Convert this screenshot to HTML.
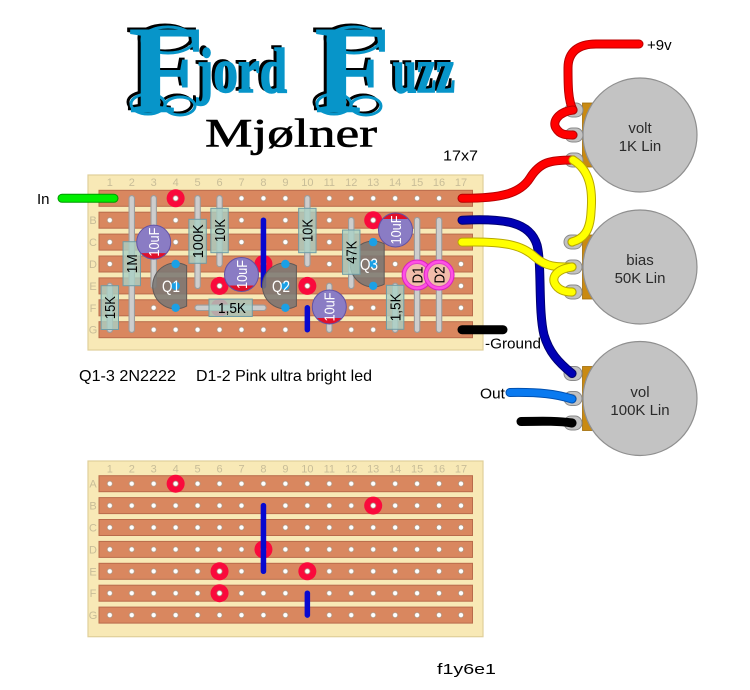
<!DOCTYPE html>
<html><head><meta charset="utf-8">
<style>
html,body{margin:0;padding:0;background:#fff;}
svg{display:block;}
</style></head><body>
<svg width="750" height="690" viewBox="0 0 750 690" xmlns="http://www.w3.org/2000/svg" font-family="Liberation Sans, sans-serif">
<defs>
<pattern id="h1" x="98.825" y="187.35" width="21.95" height="21.9" patternUnits="userSpaceOnUse"><circle cx="10.975" cy="10.95" r="2.6" fill="#fff" stroke="#a8927e" stroke-width="0.7"/></pattern>
<pattern id="h2" x="98.825" y="472.75" width="21.95" height="21.9" patternUnits="userSpaceOnUse"><circle cx="10.975" cy="10.95" r="2.6" fill="#fff" stroke="#a8927e" stroke-width="0.7"/></pattern>
<path id="wRa" d="M462,198.3 C500,198.5 520,194 530,178 C540,162 550,160 573,160"/>
<path id="w9v" d="M573,110 C568,100 568,85 568,68 C568,52 578,44 596,44 L639,44"/>
<path id="wRl" d="M573,110 C558,112 552,122 556,128 C560,135 566,135 573,135"/>
<path id="wY1" d="M573,160 C590,170 593,190 591,212 C590,232 583,239 572,242"/>
<path id="wY2" d="M462,242.1 C505,241 522,245 535,257 C546,267 556,267 572,267"/>
<path id="wYl" d="M572,267 C557,269 551,277 555,284 C559,291 566,292 572,292"/>
<path id="wB" d="M462,220.2 C505,218 530,222 537,245 C542,265 538,310 544,335 C549,352 558,362 572,373.5"/>
<path id="wO" d="M510,392.5 C540,392 556,394 572,399"/>
<path id="wK" d="M521,421.5 C545,421 560,421 572,423"/>
<path id="wG" d="M462,329.7 L503,329.7"/>
<path id="wIn" d="M62,198.3 L114,198.3"/>
</defs>
<rect width="750" height="690" fill="#fff"/>

<!-- Title -->
<g font-family="Liberation Serif, serif" font-weight="bold">
 <g fill="none" stroke="#000" stroke-width="3" transform="translate(-3,-2)">
  <ellipse cx="168" cy="40" rx="26" ry="13"/>
  <ellipse cx="148" cy="104" rx="17" ry="10"/>
  <ellipse cx="180" cy="106" rx="15" ry="9"/>
  <ellipse cx="354" cy="40" rx="26" ry="13"/>
  <ellipse cx="334" cy="104" rx="17" ry="10"/>
  <ellipse cx="366" cy="106" rx="15" ry="9"/>
 </g>
 <g fill="#000" transform="translate(-3,-2)">
  <text x="128" y="112" font-size="126">F</text>
  <text x="197" y="92" font-size="63" textLength="90" lengthAdjust="spacingAndGlyphs" stroke="#000" stroke-width="1.5">jord</text>
  <text x="314" y="112" font-size="126">F</text>
  <text x="393" y="92" font-size="63" textLength="62" lengthAdjust="spacingAndGlyphs" stroke="#000" stroke-width="1.5">uzz</text>
 </g>
 <g fill="none" stroke="#0795c9" stroke-width="3">
  <ellipse cx="168" cy="40" rx="26" ry="13"/>
  <ellipse cx="148" cy="104" rx="17" ry="10"/>
  <ellipse cx="180" cy="106" rx="15" ry="9"/>
  <ellipse cx="354" cy="40" rx="26" ry="13"/>
  <ellipse cx="334" cy="104" rx="17" ry="10"/>
  <ellipse cx="366" cy="106" rx="15" ry="9"/>
 </g>
 <g fill="#0795c9">
  <text x="128" y="112" font-size="126">F</text>
  <text x="197" y="92" font-size="63" textLength="90" lengthAdjust="spacingAndGlyphs" stroke="#0795c9" stroke-width="1.5">jord</text>
  <text x="314" y="112" font-size="126">F</text>
  <text x="393" y="92" font-size="63" textLength="62" lengthAdjust="spacingAndGlyphs" stroke="#0795c9" stroke-width="1.5">uzz</text>
 </g>
</g>
<text x="205" y="146.7" font-family="Liberation Serif, serif" font-size="40" textLength="172" lengthAdjust="spacingAndGlyphs" fill="#000" stroke="#000" stroke-width="0.6">Mjølner</text>

<!-- TOP BOARD -->
<rect x="88" y="175" width="395" height="175" fill="#f8e9b6" stroke="#e0cf9a" stroke-width="1.2"/>
<g font-size="11" fill="#c8bd98" text-anchor="middle">
 <text x="109.8" y="186">1</text><text x="131.75" y="186">2</text><text x="153.7" y="186">3</text><text x="175.65" y="186">4</text><text x="197.6" y="186">5</text><text x="219.55" y="186">6</text><text x="241.5" y="186">7</text><text x="263.45" y="186">8</text><text x="285.4" y="186">9</text><text x="307.35" y="186">10</text><text x="329.3" y="186">11</text><text x="351.25" y="186">12</text><text x="373.2" y="186">13</text><text x="395.15" y="186">14</text><text x="417.1" y="186">15</text><text x="439.05" y="186">16</text><text x="461" y="186">17</text>
 <text x="93" y="202.3">A</text><text x="93" y="224.2">B</text><text x="93" y="246.1">C</text><text x="93" y="268">D</text><text x="93" y="289.9">E</text><text x="93" y="311.8">F</text><text x="93" y="333.7">G</text>
</g>
<g fill="#d9875f" stroke="#b96b4b" stroke-width="1">
 <rect x="99" y="190.3" width="373.5" height="16"/>
 <rect x="99" y="212.2" width="373.5" height="16"/>
 <rect x="99" y="234.1" width="373.5" height="16"/>
 <rect x="99" y="256" width="373.5" height="16"/>
 <rect x="99" y="277.9" width="373.5" height="16"/>
 <rect x="99" y="299.8" width="373.5" height="16"/>
 <rect x="99" y="321.7" width="373.5" height="16"/>
</g>
<g fill="#fa0a3c">
 <circle cx="175.65" cy="198.3" r="9"/><circle cx="373.2" cy="220.2" r="9"/><circle cx="263.45" cy="264" r="9"/>
 <circle cx="219.55" cy="285.9" r="9"/><circle cx="307.35" cy="285.9" r="9"/><circle cx="219.55" cy="307.8" r="9"/>
</g>
<rect x="99" y="188" width="373" height="152" fill="url(#h1)"/>
<g stroke="#0808d0" stroke-width="5.5" stroke-linecap="round">
 <line x1="263.45" y1="220.2" x2="263.45" y2="285.9"/>
 <line x1="307.35" y1="307.8" x2="307.35" y2="329.7"/>
</g>
<!-- leads -->
<g stroke-linecap="round" fill="none">
 <g stroke="#9c9c9c" stroke-width="6.5">
  <line x1="109.8" y1="285.9" x2="109.8" y2="329.7"/>
  <line x1="131.75" y1="198.3" x2="131.75" y2="329.7"/>
  <line x1="153.7" y1="198.3" x2="153.7" y2="285.9"/>
  <line x1="197.6" y1="198.3" x2="197.6" y2="285.9"/>
  <line x1="219.55" y1="198.3" x2="219.55" y2="264"/>
  <line x1="197.6" y1="307.8" x2="263.45" y2="307.8"/>
  <line x1="307.35" y1="198.3" x2="307.35" y2="264"/>
  <line x1="351.25" y1="220.2" x2="351.25" y2="285.9"/>
  <line x1="329.3" y1="285.9" x2="329.3" y2="329.7"/>
  <line x1="395.15" y1="285.9" x2="395.15" y2="329.7"/>
  <line x1="417.1" y1="220.2" x2="417.1" y2="329.7"/>
  <line x1="439.05" y1="220.2" x2="439.05" y2="329.7"/>
 </g>
 <g stroke="#cdcdcd" stroke-width="4.3">
  <line x1="109.8" y1="285.9" x2="109.8" y2="329.7"/>
  <line x1="131.75" y1="198.3" x2="131.75" y2="329.7"/>
  <line x1="153.7" y1="198.3" x2="153.7" y2="285.9"/>
  <line x1="197.6" y1="198.3" x2="197.6" y2="285.9"/>
  <line x1="219.55" y1="198.3" x2="219.55" y2="264"/>
  <line x1="197.6" y1="307.8" x2="263.45" y2="307.8"/>
  <line x1="307.35" y1="198.3" x2="307.35" y2="264"/>
  <line x1="351.25" y1="220.2" x2="351.25" y2="285.9"/>
  <line x1="329.3" y1="285.9" x2="329.3" y2="329.7"/>
  <line x1="395.15" y1="285.9" x2="395.15" y2="329.7"/>
  <line x1="417.1" y1="220.2" x2="417.1" y2="329.7"/>
  <line x1="439.05" y1="220.2" x2="439.05" y2="329.7"/>
 </g>
</g>
<!-- transistors -->
<g fill="#7b7774" fill-opacity="0.88" stroke="#5e5a58" stroke-width="1">
 <path d="M186.65,265.7 A23 23 0 1 0 186.65,306.1 Z"/>
 <path d="M296.4,265.7 A23 23 0 1 0 296.4,306.1 Z"/>
 <path d="M384.2,243.8 A23 23 0 1 0 384.2,284.2 Z"/>
</g>
<g fill="#1aa0e6">
 <circle cx="175.65" cy="264" r="4.2"/><circle cx="175.65" cy="285.9" r="4.2"/><circle cx="175.65" cy="307.8" r="4.2"/>
 <circle cx="285.4" cy="264" r="4.2"/><circle cx="285.4" cy="285.9" r="4.2"/><circle cx="285.4" cy="307.8" r="4.2"/>
 <circle cx="373.2" cy="242.1" r="4.2"/><circle cx="373.2" cy="264" r="4.2"/><circle cx="373.2" cy="285.9" r="4.2"/>
</g>
<g fill="#fff" font-size="17" text-anchor="middle">
 <text x="171" y="292" textLength="18" lengthAdjust="spacingAndGlyphs">Q1</text>
 <text x="281" y="292" textLength="18" lengthAdjust="spacingAndGlyphs">Q2</text>
 <text x="369" y="270" textLength="18" lengthAdjust="spacingAndGlyphs">Q3</text>
</g>
<!-- resistors -->
<g fill="#a9d0c4" fill-opacity="0.8" stroke="#6f9ca6" stroke-width="1">
 <rect x="101.1" y="285.7" width="17.4" height="43.8"/>
 <rect x="123.05" y="241.7" width="17.4" height="44"/>
 <rect x="188.9" y="219.3" width="17.4" height="44"/>
 <rect x="210.85" y="208.3" width="17.4" height="44.4"/>
 <rect x="209" y="299.1" width="43.3" height="17.4"/>
 <rect x="298.65" y="208.3" width="17.4" height="44.4"/>
 <rect x="342.55" y="230" width="17.4" height="44.3"/>
 <rect x="386.45" y="285.3" width="17.4" height="44"/>
</g>
<g fill="#000" font-size="15" text-anchor="middle">
 <text transform="translate(109.8,307.6) rotate(-90)" y="5.3" textLength="23" lengthAdjust="spacingAndGlyphs">15K</text>
 <text transform="translate(131.75,263.7) rotate(-90)" y="5.3" textLength="19" lengthAdjust="spacingAndGlyphs">1M</text>
 <text transform="translate(197.6,241.3) rotate(-90)" y="5.3" textLength="34" lengthAdjust="spacingAndGlyphs">100K</text>
 <text transform="translate(219.55,230.5) rotate(-90)" y="5.3" textLength="23" lengthAdjust="spacingAndGlyphs">10K</text>
 <text x="232" y="313.2" textLength="28" lengthAdjust="spacingAndGlyphs">1,5K</text>
 <text transform="translate(307.35,230.5) rotate(-90)" y="5.3" textLength="23" lengthAdjust="spacingAndGlyphs">10K</text>
 <text transform="translate(351.25,252.2) rotate(-90)" y="5.3" textLength="23" lengthAdjust="spacingAndGlyphs">47K</text>
 <text transform="translate(395.15,307.3) rotate(-90)" y="5.3" textLength="28" lengthAdjust="spacingAndGlyphs">1,5K</text>
</g>
<!-- caps -->
<g fill="#8a7cc4">
 <circle cx="153.7" cy="242.1" r="17"/>
 <circle cx="241.5" cy="274.5" r="17"/>
 <circle cx="395.5" cy="230" r="17"/>
 <circle cx="329.3" cy="307" r="17"/>
</g>
<g fill="#e0102a">
 <path d="M140.74,253.1 A17 17 0 0 0 166.66,253.1 Z"/>
 <path d="M228.54,285.5 A17 17 0 0 0 254.46,285.5 Z"/>
 <path d="M316.34,318 A17 17 0 0 0 342.26,318 Z"/>
 <path d="M382.54,219 A17 17 0 0 1 408.46,219 Z"/>
</g>
<g fill="none" stroke="#6252a4" stroke-width="1">
 <circle cx="153.7" cy="242.1" r="17"/>
 <circle cx="241.5" cy="274.5" r="17"/>
 <circle cx="395.5" cy="230" r="17"/>
 <circle cx="329.3" cy="307" r="17"/>
</g>
<g fill="#fff" font-size="15" text-anchor="middle">
 <text transform="translate(153.7,242.1) rotate(-90)" y="5.3" textLength="29" lengthAdjust="spacingAndGlyphs">10uF</text>
 <text transform="translate(241.5,274.5) rotate(-90)" y="5.3" textLength="29" lengthAdjust="spacingAndGlyphs">10uF</text>
 <text transform="translate(395.5,230) rotate(-90)" y="5.3" textLength="29" lengthAdjust="spacingAndGlyphs">10uF</text>
 <text transform="translate(329.3,307) rotate(-90)" y="5.3" textLength="29" lengthAdjust="spacingAndGlyphs">10uF</text>
</g>
<!-- LEDs -->
<circle cx="417.1" cy="275" r="15" fill="#ff50e4" stroke="#d820c0" stroke-width="1"/>
<circle cx="417.1" cy="275" r="11.5" fill="#f1bcaa" stroke="#e040c8" stroke-width="1"/>
<circle cx="439.05" cy="275" r="15" fill="#ff50e4" stroke="#d820c0" stroke-width="1"/>
<circle cx="439.05" cy="275" r="11.5" fill="#f1bcaa" stroke="#e040c8" stroke-width="1"/>
<g fill="#000" font-size="15" text-anchor="middle">
 <text transform="translate(417.1,275) rotate(-90)" y="5.3" textLength="17" lengthAdjust="spacingAndGlyphs">D1</text>
 <text transform="translate(439.05,275) rotate(-90)" y="5.3" textLength="17" lengthAdjust="spacingAndGlyphs">D2</text>
</g>

<!-- POTS -->
<g>
 <rect x="582.5" y="103" width="10" height="64" fill="#c98a12" stroke="#a06c08" stroke-width="0.8"/>
 <circle cx="640" cy="135" r="57" fill="#c3c3c3" stroke="#8f8f8f" stroke-width="1.2"/>
 <rect x="582.5" y="235" width="10" height="64" fill="#c98a12" stroke="#a06c08" stroke-width="0.8"/>
 <circle cx="640" cy="267" r="57" fill="#c3c3c3" stroke="#8f8f8f" stroke-width="1.2"/>
 <rect x="582.5" y="366.5" width="10" height="64" fill="#c98a12" stroke="#a06c08" stroke-width="0.8"/>
 <circle cx="640" cy="398.5" r="57" fill="#c3c3c3" stroke="#8f8f8f" stroke-width="1.2"/>
</g>
<g fill="#c2c2c2" stroke="#8a8a8a" stroke-width="1">
 <rect x="565" y="103" width="18" height="14" rx="7"/><rect x="565" y="128" width="18" height="14" rx="7"/><rect x="565" y="153" width="18" height="14" rx="7"/>
 <rect x="564" y="235" width="18" height="14" rx="7"/><rect x="564" y="260" width="18" height="14" rx="7"/><rect x="564" y="285" width="18" height="14" rx="7"/>
 <rect x="564" y="366.5" width="18" height="14" rx="7"/><rect x="564" y="391.5" width="18" height="14" rx="7"/><rect x="564" y="416" width="18" height="14" rx="7"/>
</g>
<g fill="#d6d6d6" stroke="#9a9a9a" stroke-width="1">
 <circle cx="573" cy="110" r="4.3"/><circle cx="573" cy="135" r="4.3"/><circle cx="573" cy="160" r="4.3"/>
 <circle cx="572" cy="242" r="4.3"/><circle cx="572" cy="267" r="4.3"/><circle cx="572" cy="292" r="4.3"/>
 <circle cx="572" cy="373.5" r="4.3"/><circle cx="572" cy="398.5" r="4.3"/><circle cx="572" cy="423" r="4.3"/>
</g>
<g fill="#2a2a2a" font-size="15" text-anchor="middle">
 <text x="640" y="133">volt</text><text x="640" y="151">1K Lin</text>
 <text x="640" y="265">bias</text><text x="640" y="283">50K Lin</text>
 <text x="640" y="397">vol</text><text x="640" y="415">100K Lin</text>
</g>

<!-- WIRES -->
<g fill="none" stroke-linecap="round" stroke-linejoin="round">
 <use href="#wIn" stroke="#009a00" stroke-width="9"/><use href="#wIn" stroke="#00ee00" stroke-width="7"/>
 <use href="#wRa" stroke="#b80000" stroke-width="9"/><use href="#wRa" stroke="#ff0000" stroke-width="7"/>
 <use href="#w9v" stroke="#b80000" stroke-width="9"/><use href="#w9v" stroke="#ff0000" stroke-width="7"/>
 <use href="#wRl" stroke="#b80000" stroke-width="9"/><use href="#wRl" stroke="#ff0000" stroke-width="7"/>
 <use href="#wB" stroke="#000070" stroke-width="9"/><use href="#wB" stroke="#0000b4" stroke-width="7"/>
 <use href="#wY1" stroke="#b8a800" stroke-width="9"/><use href="#wY1" stroke="#ffff00" stroke-width="7"/>
 <use href="#wY2" stroke="#b8a800" stroke-width="9"/><use href="#wY2" stroke="#ffff00" stroke-width="7"/>
 <use href="#wYl" stroke="#b8a800" stroke-width="9"/><use href="#wYl" stroke="#ffff00" stroke-width="7"/>
 <use href="#wO" stroke="#0050b0" stroke-width="9"/><use href="#wO" stroke="#0a7af0" stroke-width="7"/>
 <use href="#wK" stroke="#000" stroke-width="9"/>
 <use href="#wG" stroke="#000" stroke-width="9"/>
</g>

<!-- labels -->
<g fill="#000" font-size="15">
 <text x="37" y="204">In</text>
 <text x="647" y="50">+9v</text>
 <text x="443" y="160.7" textLength="35" lengthAdjust="spacingAndGlyphs">17x7</text>
 <text x="485" y="348.5" textLength="56" lengthAdjust="spacingAndGlyphs">-Ground</text>
 <text x="480" y="398.5" textLength="25" lengthAdjust="spacingAndGlyphs">Out</text>
 <text x="79" y="381" font-size="16" textLength="97" lengthAdjust="spacingAndGlyphs">Q1-3 2N2222</text>
 <text x="196" y="381" font-size="16" textLength="176" lengthAdjust="spacingAndGlyphs">D1-2 Pink ultra bright led</text>
 <text x="437" y="674" textLength="59" lengthAdjust="spacingAndGlyphs">f1y6e1</text>
</g>

<!-- BOTTOM BOARD -->
<rect x="88" y="461" width="395" height="175.7" fill="#f8e9b6" stroke="#e0cf9a" stroke-width="1.2"/>
<g font-size="11" fill="#c8bd98" text-anchor="middle">
 <text x="109.8" y="472.5">1</text><text x="131.75" y="472.5">2</text><text x="153.7" y="472.5">3</text><text x="175.65" y="472.5">4</text><text x="197.6" y="472.5">5</text><text x="219.55" y="472.5">6</text><text x="241.5" y="472.5">7</text><text x="263.45" y="472.5">8</text><text x="285.4" y="472.5">9</text><text x="307.35" y="472.5">10</text><text x="329.3" y="472.5">11</text><text x="351.25" y="472.5">12</text><text x="373.2" y="472.5">13</text><text x="395.15" y="472.5">14</text><text x="417.1" y="472.5">15</text><text x="439.05" y="472.5">16</text><text x="461" y="472.5">17</text>
 <text x="93" y="487.7">A</text><text x="93" y="509.6">B</text><text x="93" y="531.5">C</text><text x="93" y="553.4">D</text><text x="93" y="575.3">E</text><text x="93" y="597.2">F</text><text x="93" y="619.1">G</text>
</g>
<g fill="#d9875f" stroke="#b96b4b" stroke-width="1">
 <rect x="99" y="475.7" width="373.5" height="16"/>
 <rect x="99" y="497.6" width="373.5" height="16"/>
 <rect x="99" y="519.5" width="373.5" height="16"/>
 <rect x="99" y="541.4" width="373.5" height="16"/>
 <rect x="99" y="563.3" width="373.5" height="16"/>
 <rect x="99" y="585.2" width="373.5" height="16"/>
 <rect x="99" y="607.1" width="373.5" height="16"/>
</g>
<g fill="#fa0a3c">
 <circle cx="175.65" cy="483.7" r="9"/><circle cx="373.2" cy="505.6" r="9"/><circle cx="263.45" cy="549.4" r="9"/>
 <circle cx="219.55" cy="571.3" r="9"/><circle cx="307.35" cy="571.3" r="9"/><circle cx="219.55" cy="593.2" r="9"/>
</g>
<rect x="99" y="473" width="373" height="153" fill="url(#h2)"/>
<g stroke="#0808d0" stroke-width="5.5" stroke-linecap="round">
 <line x1="263.45" y1="505.6" x2="263.45" y2="571.3"/>
 <line x1="307.35" y1="593.2" x2="307.35" y2="615.1"/>
</g>
</svg>
</body></html>
